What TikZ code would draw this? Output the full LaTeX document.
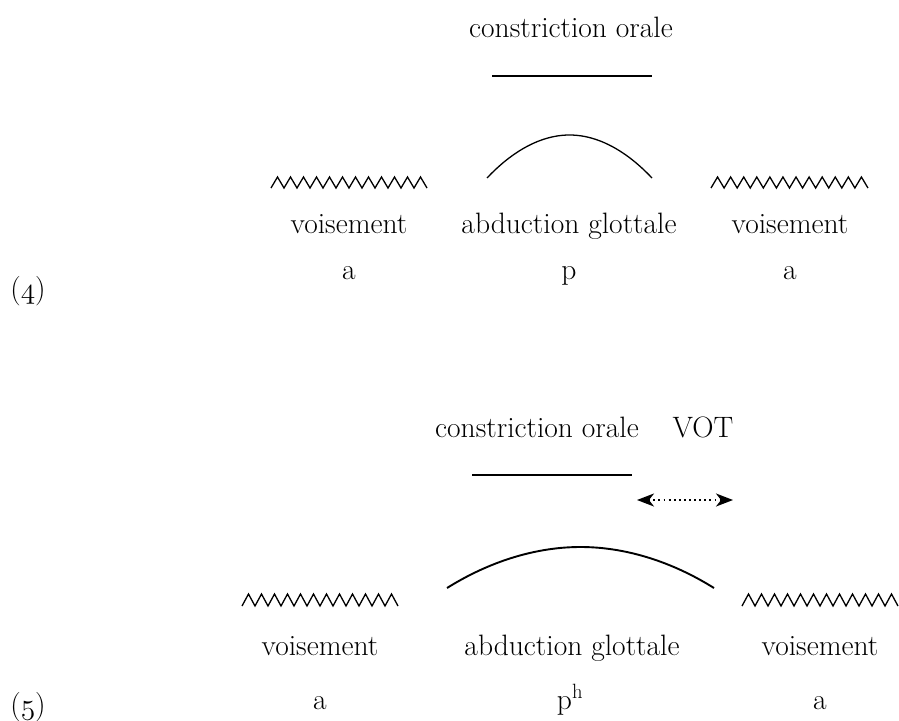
\RequirePackage{fix-cm}
\documentclass[tikz,border=0pt]{standalone}
\usepackage{fontspec}
\usetikzlibrary{arrows.meta}
\newcommand\osn[1]{{\usefont{OML}{cmm}{m}{it}#1}}
\tikzset{
  txt/.style={font=\fontsize{29.5}{35}\selectfont, anchor=base, inner sep=0pt},
  bar/.style={line width=1.4pt},
  bow/.style={line width=1.3pt},
  bowthick/.style={line width=1.9pt},
  zz/.style={line width=1.3pt, line join=miter},
  vot/.style={line width=1.9pt, dash pattern=on 1.9pt off 3.2pt,
    {Stealth[length=17pt,width=13pt,inset=5pt]}-{Stealth[length=17pt,width=13pt,inset=5pt]}}
}
\begin{document}
\begin{tikzpicture}[x=1pt,y=-1pt]
\useasboundingbox (0,0) rectangle (899,720);
% ---------- (4) ----------
\node[txt] (co1) at (571,37) {constriction orale};
\coordinate (l1a) at (492,76); \coordinate (l1b) at (652,76);
\draw[bar] (l1a) -- (l1b);
\draw[bow] (487,178) parabola bend (569.5,135) (652,178);
\draw[zz] (271,188) \foreach \k in {1,...,12} { -- ({271+(\k-0.5)*13},177) -- ({271+\k*13},188) };
\draw[zz] (711,188) \foreach \k in {1,...,12} { -- ({711+(\k-0.5)*13.08},177) -- ({711+\k*13.08},188) };
\node[txt] (v1) at (349,233) {voisement};
\node[txt] (ag1) at (569,233) {abduction glottale};
\node[txt] (v2) at (790,233) {voisement};
\node[txt] (a1) at (349,279) {a};
\node[txt] (p1) at (569,279) {p};
\node[txt] (a2) at (790,279) {a};
\node[txt] (n4) at (28,298) {(\osn{4})};
% ---------- (5) ----------
\node[txt] (co2) at (537,437) {constriction orale};
\node[txt] (vot) at (703,437) {VOT};
\coordinate (l2a) at (472,475); \coordinate (l2b) at (632,475);
\draw[bar] (l2a) -- (l2b);
\coordinate (va) at (637,500); \coordinate (vb) at (733,500);
\draw[vot] (va) -- (vb);
\draw[bowthick] (447,588) parabola bend (580.5,547) (714,588);
\draw[zz] (242,606) \foreach \k in {1,...,12} { -- ({242+(\k-0.5)*13},594) -- ({242+\k*13},606) };
\draw[zz] (742,606) \foreach \k in {1,...,12} { -- ({742+(\k-0.5)*13},594) -- ({742+\k*13},606) };
\node[txt] (v3) at (320,655) {voisement};
\node[txt] (ag2) at (572,655) {abduction glottale};
\node[txt] (v4) at (820,655) {voisement};
\node[txt] (a3) at (320,709) {a};
\node[txt] (p2) at (570,709) {p\textsuperscript{h}};
\node[txt] (a4) at (820,709) {a};
\node[txt] (n5) at (28,714) {(\osn{5})};
\end{tikzpicture}
\end{document}
